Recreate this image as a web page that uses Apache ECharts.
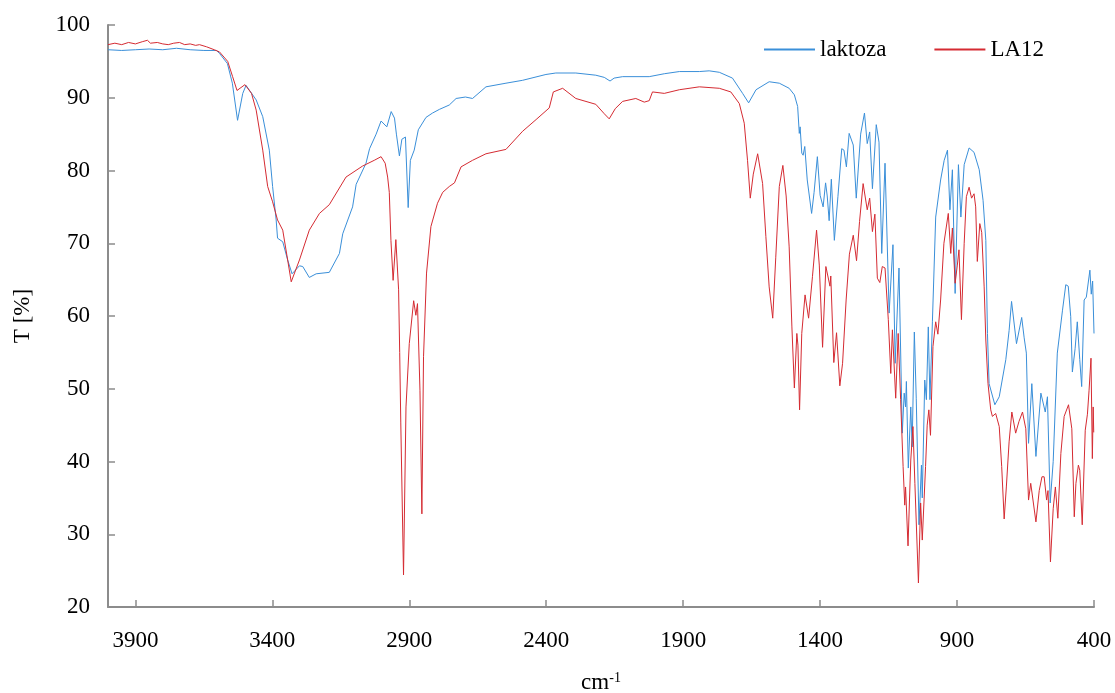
<!DOCTYPE html>
<html>
<head>
<meta charset="utf-8">
<script src="https://cdn.jsdelivr.net/npm/echarts@6/dist/echarts.min.js"></script>
<style>
    html, body { margin: 0; padding: 0; background: #fff; }
    #chart { width: 1115px; height: 693px; }
</style>
</head>
<body>
<div id="chart"></div>
<script>
// wavenumber [cm-1], transmittance [%]
const laktozaData = [
    [4000, 96.6], [3950, 96.5], [3900, 96.6], [3850, 96.7], [3800, 96.6], [3750, 96.8], [3700, 96.6],
    [3650, 96.5], [3604, 96.5], [3593, 96.1], [3564, 94.7], [3546, 92.0], [3527, 86.9], [3508, 90.6],
    [3496, 91.7], [3459, 89.7], [3435, 87.4], [3411, 82.8], [3399, 77.8], [3386, 73.2], [3381, 70.7],
    [3362, 70.2], [3344, 67.7], [3328, 65.8], [3301, 66.9], [3289, 66.8], [3265, 65.3], [3240, 65.8],
    [3192, 66.0], [3155, 68.6], [3143, 71.3], [3107, 75.0], [3094, 78.1], [3058, 81.0], [3045, 83.0],
    [3021, 85.0], [3003, 86.8], [2982, 86.0], [2966, 88.1], [2954, 87.2], [2947, 85.0], [2936, 82.0],
    [2927, 84.3], [2914, 84.6], [2904, 74.9], [2896, 81.4], [2882, 82.8], [2867, 85.6], [2839, 87.3],
    [2815, 87.9], [2790, 88.4], [2754, 89.0], [2729, 89.9], [2695, 90.1], [2669, 89.9], [2620, 91.5],
    [2547, 92.0], [2486, 92.4], [2401, 93.2], [2365, 93.4], [2292, 93.4], [2219, 93.1], [2188, 92.8],
    [2167, 92.3], [2152, 92.7], [2121, 92.9], [2024, 92.9], [1969, 93.3], [1914, 93.6], [1841, 93.6],
    [1805, 93.7], [1768, 93.5], [1720, 92.7], [1683, 90.6], [1661, 89.3], [1634, 91.1], [1586, 92.2],
    [1549, 92.0], [1513, 91.3], [1494, 90.4], [1482, 88.8], [1476, 85.1], [1473, 86.0], [1467, 82.4],
    [1462, 82.1], [1456, 83.3], [1447, 78.7], [1431, 74.1], [1422, 77.0], [1410, 81.9], [1400, 76.6],
    [1389, 75.0], [1380, 78.3], [1374, 76.5], [1367, 73.1], [1359, 78.8], [1348, 70.4], [1335, 76.4],
    [1321, 83.0], [1313, 82.8], [1304, 80.5], [1294, 85.1], [1279, 83.5], [1268, 76.2], [1252, 85.0],
    [1238, 87.9], [1228, 83.7], [1219, 85.3], [1209, 77.5], [1195, 86.3], [1185, 83.9], [1175, 68.6],
    [1163, 81.0], [1148, 60.4], [1134, 69.8], [1126, 53.5], [1112, 66.6], [1100, 43.9], [1093, 49.4],
    [1088, 47.5], [1085, 51.0], [1078, 39.1], [1069, 47.5], [1064, 42.0], [1056, 57.8], [1049, 48.7],
    [1039, 31.3], [1030, 39.5], [1027, 35.0], [1018, 51.2], [1012, 48.5], [1005, 58.5], [999, 48.5],
    [990, 59.2], [978, 73.6], [960, 78.7], [947, 81.4], [935, 82.8], [926, 74.6], [917, 80.1],
    [907, 63.1], [895, 80.8], [886, 73.6], [874, 80.8], [856, 83.1], [838, 82.5], [819, 80.1],
    [805, 75.9], [795, 70.4], [789, 57.6], [783, 50.7], [762, 47.8], [746, 48.9], [722, 54.0],
    [710, 58.0], [701, 62.0], [683, 56.2], [664, 59.8], [655, 57.0], [647, 54.9], [639, 42.5],
    [627, 50.7], [612, 40.7], [594, 49.4], [578, 46.8], [570, 48.9], [560, 34.3], [549, 40.0],
    [534, 54.9], [515, 60.8], [503, 64.3], [494, 64.1], [485, 59.9], [479, 52.3], [469, 55.5],
    [461, 59.2], [452, 54.0], [445, 50.3], [436, 62.2], [428, 62.6], [415, 66.3], [410, 63.0],
    [405, 64.8], [400, 57.6]
];

const la12Data = [
    [4000, 97.3], [3975, 97.5], [3950, 97.3], [3925, 97.6], [3900, 97.4], [3875, 97.7], [3856, 97.9],
    [3845, 97.5], [3820, 97.6], [3800, 97.4], [3780, 97.3], [3760, 97.5], [3739, 97.6], [3720, 97.3],
    [3700, 97.4], [3680, 97.2], [3666, 97.3], [3640, 97.0], [3612, 96.6], [3593, 96.3], [3563, 95.0],
    [3545, 92.9], [3529, 91.0], [3500, 91.8], [3476, 90.6], [3459, 88.3], [3435, 82.8], [3417, 77.8],
    [3399, 75.7], [3381, 73.2], [3362, 71.8], [3344, 67.7], [3331, 64.7], [3301, 67.7], [3265, 71.8],
    [3228, 74.1], [3192, 75.3], [3131, 79.1], [3071, 80.6], [3028, 81.4], [3003, 81.9], [2988, 81.0],
    [2979, 79.1], [2973, 77.0], [2967, 70.4], [2959, 64.9], [2949, 70.5], [2939, 63.6], [2935, 55.0],
    [2931, 45.3], [2921, 24.4], [2912, 47.5], [2900, 56.2], [2884, 62.1], [2876, 60.1], [2870, 61.7],
    [2861, 49.8], [2854, 32.8], [2848, 54.4], [2837, 65.9], [2821, 72.3], [2797, 75.5], [2778, 77.0],
    [2754, 77.8], [2735, 78.3], [2711, 80.5], [2669, 81.4], [2620, 82.3], [2547, 82.9], [2486, 85.4],
    [2437, 87.0], [2389, 88.6], [2374, 90.8], [2340, 91.3], [2292, 89.9], [2219, 89.1], [2188, 87.8],
    [2170, 87.1], [2148, 88.5], [2121, 89.5], [2073, 89.9], [2042, 89.4], [2024, 89.6], [2012, 90.8],
    [1969, 90.6], [1914, 91.1], [1841, 91.5], [1768, 91.3], [1726, 90.8], [1695, 89.2], [1677, 86.5],
    [1665, 81.4], [1655, 76.2], [1644, 79.5], [1628, 82.3], [1610, 78.2], [1598, 70.9], [1586, 64.0],
    [1573, 59.7], [1562, 68.0], [1549, 77.8], [1536, 80.7], [1524, 76.5], [1513, 69.5], [1503, 58.5],
    [1494, 50.1], [1485, 57.6], [1481, 56.0], [1475, 47.1], [1467, 57.6], [1455, 62.9], [1442, 59.7],
    [1428, 65.4], [1413, 71.8], [1403, 67.0], [1391, 55.7], [1379, 66.8], [1372, 67.0], [1364, 64.1],
    [1361, 65.5], [1350, 53.6], [1340, 57.7], [1336, 57.5], [1328, 50.4], [1318, 53.5], [1305, 62.2],
    [1293, 68.5], [1279, 71.1], [1267, 67.6], [1256, 73.0], [1243, 78.2], [1236, 78.0], [1228, 74.6],
    [1219, 76.2], [1209, 71.6], [1200, 74.0], [1191, 65.2], [1182, 64.6], [1173, 66.8], [1163, 66.6],
    [1151, 59.5], [1142, 52.1], [1136, 58.1], [1124, 48.7], [1115, 57.6], [1106, 48.5], [1097, 39.3],
    [1091, 34.0], [1088, 36.5], [1079, 28.4], [1069, 40.2], [1061, 44.8], [1054, 37.0], [1041, 23.3],
    [1033, 34.3], [1027, 29.2], [1015, 39.3], [1009, 45.0], [1003, 47.1], [997, 43.6], [988, 55.8],
    [978, 59.2], [970, 57.5], [960, 62.2], [948, 70.0], [932, 74.1], [923, 68.6], [917, 72.1],
    [907, 64.5], [899, 67.0], [893, 69.1], [884, 59.5], [874, 70.0], [866, 76.4], [856, 77.7],
    [847, 76.2], [838, 76.8], [832, 75.0], [826, 67.5], [817, 72.7], [810, 71.5], [801, 64.0],
    [795, 56.7], [787, 50.7], [777, 47.1], [771, 46.2], [759, 46.6], [746, 44.8], [737, 39.3],
    [728, 32.1], [720, 36.5], [710, 42.7], [700, 46.8], [686, 43.9], [674, 45.5], [661, 46.8],
    [649, 44.5], [639, 34.7], [631, 37.0], [612, 31.7], [600, 36.0], [590, 37.9], [582, 37.9],
    [573, 34.7], [568, 36.0], [559, 26.2], [549, 33.5], [541, 36.5], [532, 32.2], [521, 41.1],
    [509, 46.2], [493, 47.8], [481, 44.5], [472, 32.4], [466, 37.0], [457, 39.5], [452, 38.8],
    [443, 31.3], [432, 44.3], [424, 46.5], [418, 49.8], [411, 54.2], [406, 40.4], [403, 47.5],
    [401, 44.0]
];

const xTicks = [3900, 3400, 2900, 2400, 1900, 1400, 900, 400];

const font = 'Liberation Serif, Times New Roman, serif';
const axisGray = '#8c8c8c';

let myChart = echarts.init(document.getElementById('chart'));

let option = {
    animation: false,
    backgroundColor: '#fff',
    textStyle: {
        fontFamily: font
    },
    legend: {
        left: 759,
        top: 33,
        itemWidth: 51,
        itemHeight: 2,
        itemGap: 48,
        icon: 'rect',
        textStyle: {
            fontFamily: font,
            fontSize: 23,
            color: '#000'
        },
        data: ['laktoza', 'LA12']
    },
    grid: {
        left: 108,
        right: 21,
        top: 25,
        bottom: 86,
        outerBoundsMode: 'none'
    },
    xAxis: {
        type: 'value',
        inverse: true,
        min: 400,
        max: 4000,
        name: '{a|cm}{b|-1}',
        nameLocation: 'middle',
        nameGap: 64,
        nameTextStyle: {
            rich: {
                a: { fontFamily: font, fontSize: 23, color: '#000' },
                b: { fontFamily: font, fontSize: 14, color: '#000', verticalAlign: 'top', padding: [0, 0, 8, 0] }
            }
        },
        axisLine: {
            show: true,
            lineStyle: { color: axisGray, width: 2 }
        },
        axisTick: {
            show: true,
            inside: true,
            length: 7,
            customValues: xTicks,
            lineStyle: { color: axisGray, width: 1.5 }
        },
        axisLabel: {
            customValues: xTicks,
            margin: 22,
            fontFamily: font,
            fontSize: 23,
            color: '#000',
            formatter: function (v) {
                return String(v);
            }
        },
        splitLine: { show: false }
    },
    yAxis: {
        type: 'value',
        min: 20,
        max: 100,
        interval: 10,
        name: 'T [%]',
        nameLocation: 'middle',
        nameGap: 74,
        nameTextStyle: {
            fontFamily: font,
            fontSize: 23,
            color: '#000'
        },
        axisLine: {
            show: true,
            lineStyle: { color: axisGray, width: 2 }
        },
        axisTick: {
            show: true,
            inside: true,
            length: 7,
            lineStyle: { color: axisGray, width: 1.5 }
        },
        axisLabel: {
            margin: 18,
            fontFamily: font,
            fontSize: 23,
            color: '#000'
        },
        splitLine: { show: false }
    },
    series: [
        {
            name: 'laktoza',
            type: 'line',
            data: laktozaData,
            symbol: 'none',
            color: '#3a8fd9',
            lineStyle: { width: 1 }
        },
        {
            name: 'LA12',
            type: 'line',
            data: la12Data,
            symbol: 'none',
            color: '#d52b32',
            lineStyle: { width: 1 }
        }
    ]
};

myChart.setOption(option);
</script>
</body>
</html>
